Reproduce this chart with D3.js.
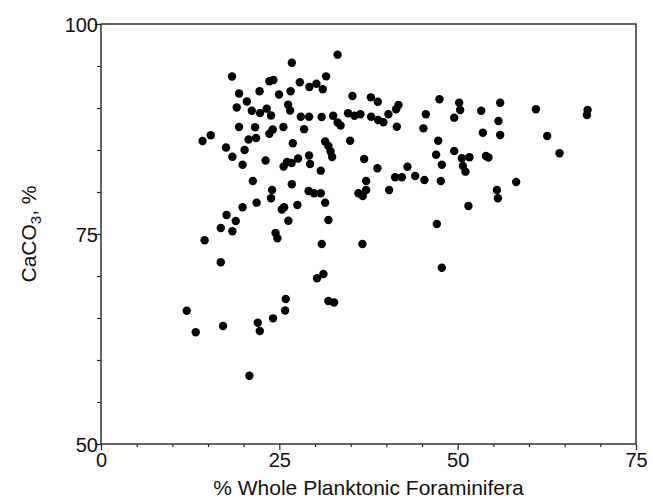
<!DOCTYPE html>
<html>
<head>
<meta charset="utf-8">
<script src="https://cdn.jsdelivr.net/npm/d3@7"></script>
<style>
  html, body { margin: 0; padding: 0; background: #fff; }
  svg { display: block; font-family: "Liberation Sans", Arial, Helvetica, sans-serif; }
</style>
</head>
<body>
<svg id="chart" width="653" height="500"></svg>
<script>
// Whole planktonic foraminifera content (%) of each sample
const foramPct = [
  12.02, 13.28, 14.24, 15.39, 14.52, 16.79, 16.79, 17.11, 17.53, 17.60,
  18.37, 18.42, 18.42, 18.89, 19.03, 19.35, 19.35, 19.85, 19.85, 20.13,
  20.45, 20.69, 20.80, 21.14, 21.28, 21.60, 21.74, 21.81, 21.98, 22.23,
  22.26, 22.30, 23.07, 23.24, 23.60, 24.17, 23.60, 24.08, 23.84, 23.98,
  23.84, 24.12, 24.47, 24.73, 24.96, 25.34, 25.67, 25.57, 25.60, 26.09,
  26.72, 27.63, 25.90, 25.81, 26.23, 26.51, 26.58, 26.75, 26.75, 26.27,
  26.89, 27.53, 27.87, 28.01, 28.47, 29.17, 29.17, 29.31, 29.21, 30.20,
  31.09, 29.10, 29.87, 30.81, 30.81, 30.93, 30.95, 31.18, 30.29, 31.42,
  31.42, 31.88, 32.19, 32.40, 31.56, 31.88, 31.88, 32.68, 32.54, 33.17,
  33.17, 33.59, 34.64, 35.53, 36.37, 34.92, 35.25, 36.09, 36.70, 37.17,
  36.65, 36.89, 37.17, 37.83, 38.81, 37.87, 38.85, 39.59, 40.29, 38.75,
  40.39, 41.23, 42.17, 41.37, 41.70, 41.47, 42.96, 44.04, 45.34, 45.20,
  45.54, 46.98, 47.08, 47.27, 47.45, 47.64, 47.78, 47.78, 49.51, 49.51,
  50.21, 50.35, 50.59, 50.73, 51.09, 51.65, 51.51, 53.30, 53.53, 53.96,
  54.32, 55.96, 55.72, 55.96, 55.50, 55.64, 58.20, 60.97, 62.55, 64.28,
  68.21, 68.12
];

// Carbonate content (CaCO3, %) of the same samples
const caco3Pct = [
  65.87, 63.30, 86.07, 86.75, 74.25, 71.63, 75.71, 64.05, 85.30, 77.26,
  93.75, 84.20, 75.32, 76.55, 90.06, 91.73, 87.74, 83.25, 78.18, 85.00,
  90.77, 86.25, 58.13, 89.68, 81.31, 87.70, 86.43, 78.73, 64.44, 91.99,
  63.45, 89.40, 83.75, 89.92, 93.18, 93.33, 86.94, 87.44, 89.11, 80.24,
  79.25, 64.96, 75.12, 74.49, 91.61, 77.92, 78.18, 87.74, 83.04, 83.57,
  83.45, 83.99, 67.26, 65.89, 90.38, 89.70, 91.99, 95.38, 80.92, 76.57,
  85.81, 78.45, 93.06, 88.96, 87.48, 88.96, 84.35, 83.33, 92.50, 92.89,
  92.23, 80.12, 79.85, 79.85, 82.54, 88.93, 73.81, 70.24, 69.73, 78.73,
  86.01, 85.48, 84.82, 84.17, 93.77, 76.67, 67.02, 66.85, 89.08, 96.35,
  88.27, 87.92, 89.38, 89.08, 89.25, 86.11, 91.43, 79.85, 79.52, 80.24,
  73.81, 83.93, 81.31, 91.27, 90.75, 88.96, 88.57, 88.30, 89.25, 82.82,
  80.24, 81.75, 81.75, 89.85, 90.36, 87.77, 83.01, 81.90, 81.43, 87.58,
  89.25, 84.44, 76.19, 86.11, 91.04, 81.31, 83.25, 70.99, 84.88, 88.85,
  90.63, 89.76, 84.01, 83.10, 82.42, 84.13, 78.33, 89.68, 87.06, 84.29,
  84.11, 90.63, 88.45, 86.79, 80.24, 79.25, 81.19, 89.85, 86.67, 84.61,
  89.76, 89.17
];

const xDomain = [0, 75];
const yDomain = [50, 100];
const xTickLabels = [0, 25, 50, 75];
const yTickLabels = [50, 75, 100];
const minorStep = 5;

const samples = foramPct.map((f, i) => ({ foram: f, caco3: caco3Pct[i] }));

const svg = d3.select("#chart");
const margin = { left: 101, right: 17, top: 24, bottom: 56 };
const W = 653, H = 500;
const plotW = W - margin.left - margin.right;
const plotH = H - margin.top - margin.bottom;

const x = d3.scaleLinear().domain(xDomain).range([0, plotW]);
const y = d3.scaleLinear().domain(yDomain).range([plotH, 0]);

const g = svg.append("g").attr("transform", `translate(${margin.left},${margin.top})`);

const axisColor = "#222";
const tickFont = 20;

// Bottom axis: minor ticks every 5 units, labelled majors every 25
const xAxis = d3.axisBottom(x)
  .tickValues(d3.range(xDomain[0], xDomain[1] + 0.001, minorStep))
  .tickSize(3)
  .tickSizeOuter(0)
  .tickFormat(d => xTickLabels.includes(d) ? d : "");
const gx = g.append("g").attr("transform", `translate(0,${plotH})`).call(xAxis);
gx.select(".domain").remove();
gx.selectAll(".tick line")
  .attr("stroke", axisColor).attr("stroke-width", 1.2)
  .attr("y2", d => xTickLabels.includes(d) ? 6 : 3);
gx.selectAll(".tick text")
  .attr("y", 9)
  .attr("fill", "#111")
  .style("font-size", tickFont + "px");

// Left axis: minor ticks every 5 units, labelled majors every 25
const yAxis = d3.axisLeft(y)
  .tickValues(d3.range(yDomain[0], yDomain[1] + 0.001, minorStep))
  .tickSize(4)
  .tickSizeOuter(0)
  .tickFormat(d => yTickLabels.includes(d) ? d : "");
const gy = g.append("g").call(yAxis);
gy.select(".domain").remove();
gy.selectAll(".tick line")
  .attr("stroke", axisColor).attr("stroke-width", 1.2)
  .attr("x2", d => yTickLabels.includes(d) ? -6 : -4);
gy.selectAll(".tick text")
  .attr("x", -3)
  .attr("dy", "0.36em")
  .attr("fill", "#111")
  .style("font-size", tickFont + "px");

// Plot frame
g.append("rect")
  .attr("x", 0).attr("y", 0)
  .attr("width", plotW).attr("height", plotH)
  .attr("fill", "none")
  .attr("stroke", "#333")
  .attr("stroke-width", 1.5);

// Sample points
g.append("g")
  .selectAll("circle")
  .data(samples)
  .join("circle")
  .attr("cx", d => x(d.foram))
  .attr("cy", d => y(d.caco3))
  .attr("r", 4.2)
  .attr("fill", "#000");

// Axis titles
svg.append("text")
  .attr("x", margin.left + plotW / 2)
  .attr("y", 495)
  .attr("text-anchor", "middle")
  .attr("fill", "#111")
  .style("font-size", "21px")
  .text("% Whole Planktonic Foraminifera");

const yTitle = svg.append("text")
  .attr("transform", `translate(36,${margin.top + plotH / 2}) rotate(-90)`)
  .attr("text-anchor", "middle")
  .attr("fill", "#111")
  .style("font-size", "21px");
yTitle.append("tspan").text("CaCO");
yTitle.append("tspan").attr("dy", 5).style("font-size", "15px").text("3");
yTitle.append("tspan").attr("dy", -5).text(", %");
</script>
</body>
</html>
